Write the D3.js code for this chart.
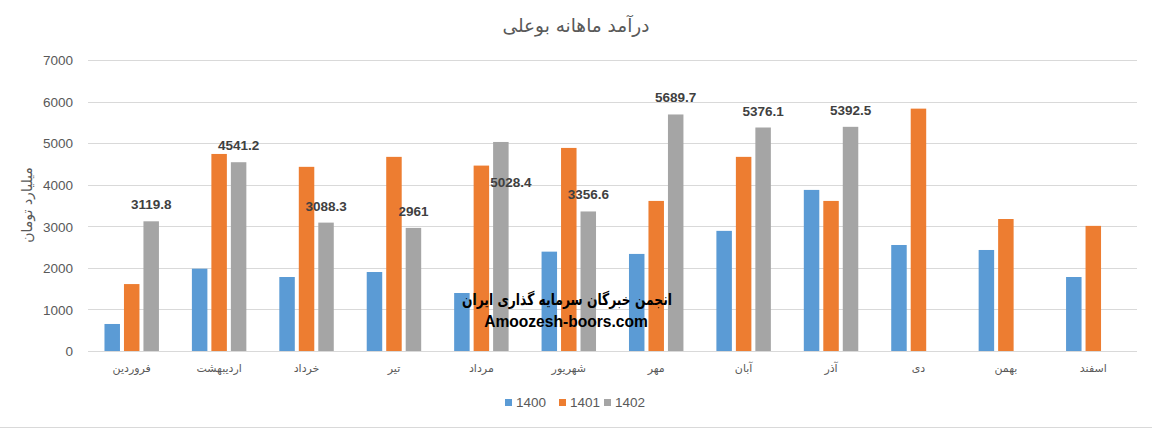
<!DOCTYPE html>
<html><head><meta charset="utf-8">
<script src="https://cdn.jsdelivr.net/npm/d3@7"></script>
<style>
html,body{margin:0;padding:0;background:#fff;}
svg{display:block;}
</style></head>
<body>
<script>
const categories = ["فروردین","اردیبهشت","خرداد","تیر","مرداد","شهریور","مهر","آبان","آذر","دی","بهمن","اسفند"];
const seriesNames = ["1400","1401","1402"];
const values1400 = [650, 1980, 1780, 1900, 1395, 2390, 2335, 2890, 3875, 2550, 2430, 1780];
const values1401 = [1610, 4740, 4430, 4670, 4460, 4885, 3610, 4670, 3610, 5830, 3175, 3010];
const values1402 = [3119.8, 4541.2, 3088.3, 2961, 5028.4, 3356.6, 5689.7, 5376.1, 5392.5, null, null, null];
const yTicks = [0, 1000, 2000, 3000, 4000, 5000, 6000, 7000];
const colors = ["#5b9bd5", "#ed7d31", "#a5a5a5"];
const titleText = "درآمد ماهانه بوعلی";
const yLabelText = "میلیارد تومان";
const watermark1 = "انجمن خبرگان سرمایه گذاری ایران";
const watermark2 = "Amoozesh-boors.com";

const W = 1152, H = 428;
const plot = {left: 88, right: 1137, top: 60, bottom: 351};
const allSeries = [values1400, values1401, values1402];

const svg = d3.select("body").append("svg").attr("width", W).attr("height", H);

const x0 = d3.scaleBand().domain(d3.range(categories.length))
  .range([plot.left, plot.right]).paddingInner(0.377).paddingOuter(0.1885);
const x1 = d3.scaleBand().domain(d3.range(seriesNames.length))
  .range([0, x0.bandwidth()]).paddingInner(0.205).paddingOuter(0);
const y = d3.scaleLinear().domain([0, 7000]).range([plot.bottom, plot.top]);

// gridlines
svg.append("g").selectAll("line").data(yTicks).join("line")
  .attr("x1", plot.left).attr("x2", plot.right)
  .attr("y1", d => Math.round(y(d)) + 0.5).attr("y2", d => Math.round(y(d)) + 0.5)
  .attr("stroke", "#d9d9d9").attr("stroke-width", 1);

// y axis
const yAxis = d3.axisLeft(y).tickValues(yTicks).tickSize(0).tickPadding(0).tickFormat(d3.format("d"));
const yg = svg.append("g").attr("transform", `translate(73,0)`).call(yAxis);
yg.select(".domain").remove();
yg.selectAll("text").attr("fill", "#595959").attr("font-family", "Liberation Sans, Arial, sans-serif")
  .attr("font-size", "13.5px").attr("dy", "0.35em");

// x axis labels
const xAxis = d3.axisBottom(x0).tickSize(0).tickPadding(0).tickFormat(i => categories[i]);
const xg = svg.append("g").attr("transform", `translate(0,${plot.bottom + 13})`).call(xAxis);
xg.select(".domain").remove();
xg.selectAll("text").attr("fill", "#595959").attr("font-family", "DejaVu Sans, sans-serif")
  .attr("font-size", "11px").attr("dy", "0.71em");

// bars
const groups = svg.append("g").selectAll("g").data(categories).join("g")
  .attr("transform", (d, i) => `translate(${x0(i)},0)`);
groups.selectAll("rect").data((d, i) => allSeries.map((s, k) => ({k, v: s[i]})).filter(e => e.v != null))
  .join("rect")
  .attr("x", d => x1(d.k)).attr("width", x1.bandwidth())
  .attr("y", d => y(d.v)).attr("height", d => y(0) - y(d.v))
  .attr("fill", d => colors[d.k]);

// data labels for 1402
const labelShift = values1402.map((v, i) => i === 4 ? {dx: 10, dy: 57} : {dx: 0, dy: 0});
svg.append("g").selectAll("text").data(values1402.map((v, i) => ({v, i})).filter(d => d.v != null))
  .join("text")
  .attr("x", d => x0(d.i) + x1(2) + x1.bandwidth() / 2 + labelShift[d.i].dx)
  .attr("y", d => y(d.v) - 12 + labelShift[d.i].dy)
  .attr("text-anchor", "middle")
  .attr("font-family", "Liberation Sans, Arial, sans-serif").attr("font-weight", "bold")
  .attr("font-size", "13.5px").attr("fill", "#404040")
  .text(d => d3.format("")(d.v));

// title
svg.append("text").attr("x", 576).attr("y", 32).attr("text-anchor", "middle")
  .attr("font-family", "DejaVu Sans, sans-serif").attr("font-size", "18.5px").attr("fill", "#595959")
  .text(titleText);

// y label
svg.append("text").attr("transform", "translate(32,205) rotate(-90)").attr("text-anchor", "middle")
  .attr("font-family", "DejaVu Sans, sans-serif").attr("font-size", "14px").attr("fill", "#595959")
  .text(yLabelText);

// legend
const legendX = [505, 559, 604];
const lg = svg.append("g").selectAll("g").data(seriesNames).join("g")
  .attr("transform", (d, i) => `translate(${legendX[i]},399)`);
lg.append("rect").attr("width", 7).attr("height", 7).attr("fill", (d, i) => colors[i]);
lg.append("text").attr("x", 11).attr("y", 3.5).attr("dy", "0.35em")
  .attr("font-family", "Liberation Sans, Arial, sans-serif").attr("font-size", "13.5px").attr("fill", "#595959")
  .text(d => d);

// watermark
svg.append("text").attr("x", 567).attr("y", 305).attr("text-anchor", "middle")
  .attr("font-family", "DejaVu Sans, sans-serif").attr("font-weight", "bold").attr("font-size", "16px")
  .attr("textLength", 210).attr("lengthAdjust", "spacingAndGlyphs")
  .attr("fill", "#000").text(watermark1);
svg.append("text").attr("x", 566).attr("y", 327).attr("text-anchor", "middle")
  .attr("font-family", "Liberation Sans, Arial, sans-serif").attr("font-weight", "bold").attr("font-size", "15.6px")
  .attr("fill", "#000").text(watermark2);

// bottom border
svg.append("line").attr("x1", 0).attr("x2", W).attr("y1", 427.5).attr("y2", 427.5)
  .attr("stroke", "#d9d9d9").attr("stroke-width", 1);
</script>
</body></html>
